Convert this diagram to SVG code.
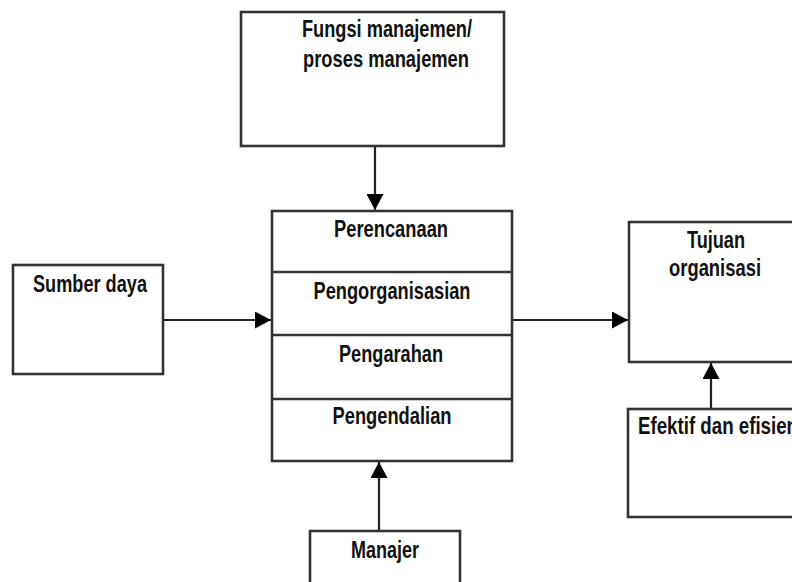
<svg xmlns="http://www.w3.org/2000/svg" width="792" height="582" viewBox="0 0 792 582">
<style>
.box{fill:#fff;stroke:#333;stroke-width:2.6}
.t{font-family:"Liberation Sans","Arial",sans-serif;font-size:24px;font-weight:bold;fill:#111;text-anchor:middle}
.c{stroke:#222;stroke-width:2.2;fill:none}
</style>
<defs>
<marker id="ah" viewBox="0 0 16 17" refX="16" refY="8.5" markerWidth="16" markerHeight="17" orient="auto" markerUnits="userSpaceOnUse">
<path d="M0,0 L16,8.5 L0,17 Z" fill="#000"/>
</marker>
</defs>
<rect width="792" height="582" fill="#fff"/>
<g id="connectors">
<line class="c" x1="375" y1="146" x2="375" y2="210" marker-end="url(#ah)"/>
<line class="c" x1="163" y1="320" x2="271" y2="320" marker-end="url(#ah)"/>
<line class="c" x1="512" y1="320" x2="628" y2="320" marker-end="url(#ah)"/>
<line class="c" x1="711" y1="409" x2="711" y2="363" marker-end="url(#ah)"/>
<line class="c" x1="379" y1="531" x2="379" y2="462" marker-end="url(#ah)"/>
</g>
<g id="fungsi">
<rect class="box" x="241" y="12" width="263" height="134"/>
<text class="t" x="387" y="37" textLength="170" lengthAdjust="spacingAndGlyphs">Fungsi manajemen/</text>
<text class="t" x="386" y="67" textLength="166" lengthAdjust="spacingAndGlyphs">proses manajemen</text>
</g>
<g id="proses">
<rect class="box" x="272" y="211" width="240" height="250"/>
<line class="box" x1="272" y1="272" x2="512" y2="272"/>
<line class="box" x1="272" y1="335" x2="512" y2="335"/>
<line class="box" x1="272" y1="399" x2="512" y2="399"/>
<text class="t" x="391" y="237" textLength="114" lengthAdjust="spacingAndGlyphs">Perencanaan</text>
<text class="t" x="392" y="299" textLength="157" lengthAdjust="spacingAndGlyphs">Pengorganisasian</text>
<text class="t" x="391" y="362" textLength="104" lengthAdjust="spacingAndGlyphs">Pengarahan</text>
<text class="t" x="392" y="424" textLength="119" lengthAdjust="spacingAndGlyphs">Pengendalian</text>
</g>
<g id="sumber">
<rect class="box" x="13" y="265" width="150" height="109"/>
<text class="t" x="90" y="292" textLength="114" lengthAdjust="spacingAndGlyphs">Sumber daya</text>
</g>
<g id="tujuan">
<rect class="box" x="629" y="222" width="175" height="140"/>
<text class="t" x="716" y="248" textLength="58" lengthAdjust="spacingAndGlyphs">Tujuan</text>
<text class="t" x="715" y="276" textLength="92" lengthAdjust="spacingAndGlyphs">organisasi</text>
</g>
<g id="efektif">
<rect class="box" x="628" y="409" width="176" height="108"/>
<text class="t" x="638" y="434" style="text-anchor:start" textLength="160" lengthAdjust="spacingAndGlyphs">Efektif dan efisien</text>
</g>
<g id="manajer">
<rect class="box" x="310" y="531" width="150" height="60"/>
<text class="t" x="385" y="558" textLength="68" lengthAdjust="spacingAndGlyphs">Manajer</text>
</g>
</svg>
